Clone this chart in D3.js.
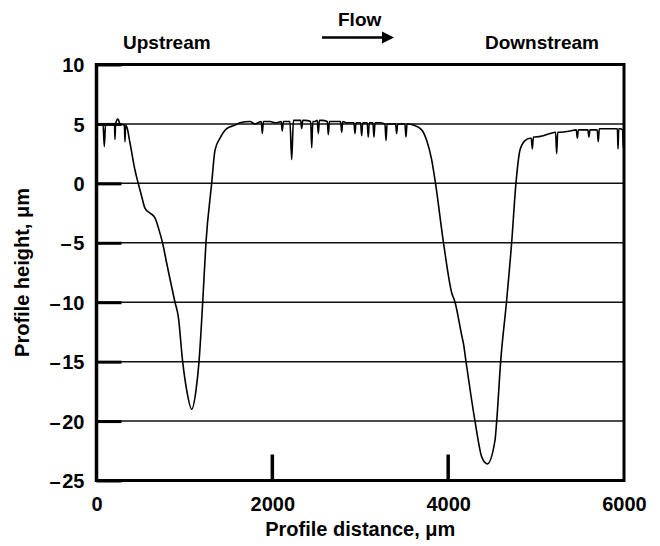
<!DOCTYPE html>
<html>
<head>
<meta charset="utf-8">
<script src="https://cdn.jsdelivr.net/npm/d3@7/dist/d3.min.js"></script>
<style>
  html, body { margin: 0; padding: 0; background: #fff; }
  svg { display: block; }
  text { font-family: "Liberation Sans", Arial, Helvetica, sans-serif; font-weight: bold; fill: #000; }
</style>
</head>
<body>
<script>
// ---- data ----
const distance = [
  6, 40, 74, 89, 102, 154, 205, 210, 217, 245, 267, 317, 324, 331, 347,
  381, 438, 475, 514, 552, 609, 665, 722, 751, 798, 893, 930, 980, 1026, 1083,
  1132, 1166, 1208, 1245, 1310, 1348, 1405, 1481, 1575, 1632, 1746, 1803,
  1874, 1886, 1898, 1973, 2042, 2100, 2113, 2126, 2200, 2220, 2240, 2269,
  2322, 2334, 2346, 2371, 2436, 2448, 2460, 2485, 2511, 2523, 2535, 2565,
  2625, 2637, 2649, 2690, 2777, 2789, 2801, 2849, 2928, 2940, 2952, 2974,
  3004, 3016, 3028, 3054, 3079, 3091, 3103, 3122, 3144, 3156, 3168, 3213,
  3281, 3293, 3305, 3338, 3402, 3414, 3426, 3452, 3508, 3520, 3532, 3554,
  3603, 3699, 3756, 3812, 3856, 3947, 4040, 4078, 4160, 4172, 4203, 4305,
  4381, 4420, 4445, 4533, 4552, 4597, 4663, 4722, 4771, 4817, 4874, 4931,
  4945, 4957, 4969, 4988, 5082, 5158, 5222, 5234, 5246, 5272, 5386, 5457,
  5469, 5481, 5499, 5589, 5601, 5613, 5650, 5695, 5707, 5719, 5761, 5837,
  5913, 5925, 5932, 5940, 5954, 5985, 5992, 5998
];
const height = [
  4.9, 5.0, 5.0, 3.1, 4.9, 5.0, 5.0, 3.7, 5.0, 5.4, 5.0, 4.9, 3.5, 4.9, 4.7,
  3.4, 1.1, 0, -1.1, -2.1, -2.5, -2.9, -4.2, -5.0, -6.7, -10, -11.2, -15, -17.4, -19.0,
  -17.4, -15, -10, -5, 0, 2.8, 3.8, 4.6, 4.9, 5.1, 5.2, 5.0,
  5.2, 4.2, 5.2, 5.2, 5.1, 5.2, 4.4, 5.2, 5.2, 2.0, 5.3, 5.3,
  5.3, 4.6, 5.3, 5.3, 5.2, 3.0, 5.2, 5.2, 5.3, 4.2, 5.3, 5.3,
  5.2, 4.1, 5.2, 5.2, 5.2, 4.3, 5.2, 5.1, 5.1, 4.2, 5.1, 5.1,
  5.1, 4.0, 5.1, 5.1, 5.1, 3.9, 5.1, 5.1, 5.1, 3.9, 5.1, 5.1,
  5.0, 3.6, 5.0, 5.0, 5.0, 4.2, 5.0, 5.0, 5.0, 3.9, 5.0, 5.0,
  4.9, 4.5, 3.6, 2.0, 0, -5, -9.2, -10, -13.0, -13.4, -15, -20,
  -23.0, -23.5, -23.6, -21.6, -20, -15, -10, -5, 0, 2.8, 3.6, 3.8,
  3.8, 2.9, 3.9, 3.9, 4.0, 4.2, 4.3, 2.5, 4.3, 4.3, 4.4, 4.5,
  3.8, 4.5, 4.5, 4.5, 3.9, 4.5, 4.5, 4.5, 3.5, 4.6, 4.6, 4.6,
  4.6, 4.6, 2.9, 4.6, 4.6, 4.5, 3.0, 4.2
];
const xTicks = [0, 2000, 4000, 6000];
const yTicks = [10, 5, 0, -5, -10, -15, -20, -25];
const gridValues = [5, 0, -5, -10, -15, -20];
const innerXTicks = [2000, 4000];
const xTitle = "Profile distance, \u03bcm";
const yTitle = "Profile height, \u03bcm";
const topLabels = ["Upstream", "Flow", "Downstream"];

// ---- layout ----
const W = 660, H = 546;
const svg = d3.select("body").append("svg").attr("width", W).attr("height", H);

const x = d3.scaleLinear().domain([0, 6000]).range([96.5, 624]);
const y = d3.scaleLinear().domain([-25, 10]).range([480.5, 64.5]);

// gridlines
svg.append("g").selectAll("line").data(gridValues).join("line")
  .attr("x1", x(0)).attr("x2", x(6000))
  .attr("y1", d => y(d)).attr("y2", d => y(d))
  .attr("stroke", "#111").attr("stroke-width", 1.5);

// frame (top, right, bottom)
svg.append("path")
  .attr("d", `M${x(0)},${y(10)}H${x(6000)}V${y(-25)}H${x(0)}`)
  .attr("fill", "none").attr("stroke", "#000").attr("stroke-width", 3)
  .attr("stroke-linejoin", "miter");

// left axis with inward ticks
const yAxis = d3.axisLeft(y).tickValues(yTicks).tickSize(-25).tickPadding(12)
  .tickFormat(d => d < 0 ? "\u2013\u200a" + Math.abs(d) : d);
const gy = svg.append("g").attr("transform", `translate(${x(0)},0)`).call(yAxis);
gy.select(".domain").attr("stroke", "#000").attr("stroke-width", 3.5)
  .attr("d", `M0,${y(10) - 1.5}V${y(-25) + 1.5}`);
gy.selectAll(".tick line").attr("stroke", "#000").attr("stroke-width", 3);
gy.selectAll(".tick text").attr("font-size", 20).attr("font-family", "Liberation Sans, Arial, sans-serif")
  .attr("font-weight", "bold").attr("fill", "#000").attr("dy", "0.36em");

// bottom axis with inward ticks
const xAxis = d3.axisBottom(x).tickValues(xTicks).tickSize(0).tickPadding(30).tickFormat(d3.format("d"));
const gx = svg.append("g").attr("transform", `translate(0,${y(-25)})`).call(xAxis);
gx.select(".domain").remove();
gx.selectAll(".tick text").attr("font-size", 20).attr("font-family", "Liberation Sans, Arial, sans-serif")
  .attr("font-weight", "bold").attr("fill", "#000").attr("dy", 0).attr("y", 30);
svg.append("g").selectAll("line").data(innerXTicks).join("line")
  .attr("x1", d => x(d)).attr("x2", d => x(d))
  .attr("y1", y(-25)).attr("y2", y(-25) - 26)
  .attr("stroke", "#000").attr("stroke-width", 3.5);

// profile line
const line = d3.line().x((d, i) => x(distance[i])).y((d, i) => y(height[i])).curve(d3.curveMonotoneX);
svg.append("path").datum(height).attr("d", line)
  .attr("fill", "none").attr("stroke", "#000").attr("stroke-width", 1.6).attr("stroke-linejoin", "round");

// axis titles
svg.append("text").attr("x", (x(0) + x(6000)) / 2).attr("y", 536)
  .attr("text-anchor", "middle").attr("font-size", 20).text(xTitle);
svg.append("text").attr("transform", `translate(29,${(y(10) + y(-25)) / 2}) rotate(-90)`)
  .attr("text-anchor", "middle").attr("font-size", 20).text(yTitle);

// top labels
svg.append("text").attr("x", 123).attr("y", 49).attr("font-size", 19).text(topLabels[0]);
svg.append("text").attr("x", 338).attr("y", 26).attr("font-size", 19).text(topLabels[1]);
svg.append("text").attr("x", 599).attr("y", 49).attr("text-anchor", "end").attr("font-size", 19).text(topLabels[2]);

// flow arrow
svg.append("line").attr("x1", 322).attr("x2", 384).attr("y1", 37.5).attr("y2", 37.5)
  .attr("stroke", "#000").attr("stroke-width", 2.5);
svg.append("path").attr("d", d3.line()([[382, 31.5], [394, 37.5], [382, 43.5]])).attr("fill", "#000");
</script>
</body>
</html>
